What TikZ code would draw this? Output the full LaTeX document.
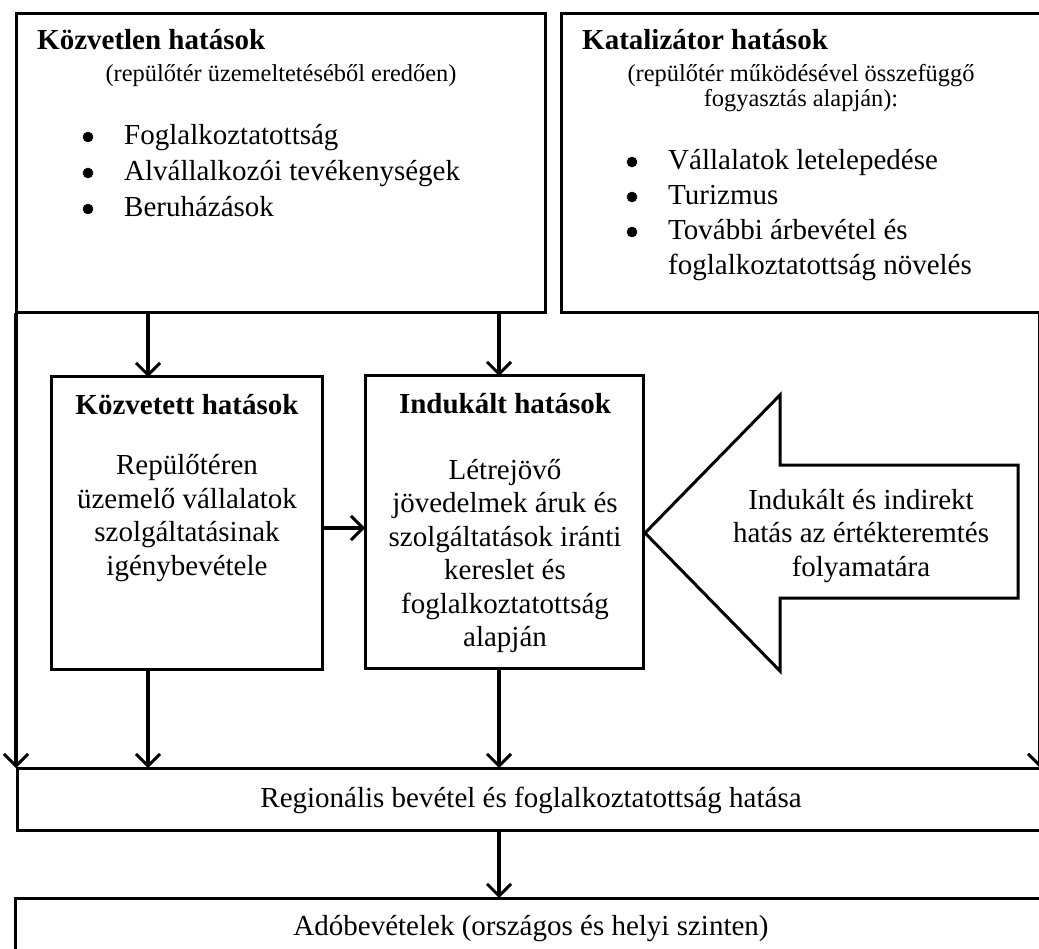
\documentclass[tikz,border=0pt]{standalone}
\usepackage{fontspec}
\setmainfont{Liberation Serif}
\usetikzlibrary{arrows.meta}
\tikzset{
  box/.style={draw, line width=3pt, inner sep=0pt, outer sep=0pt},
  arr/.style={line width=3.5pt, -{Straight Barb[length=12pt,width=24pt,line width=3pt]}},
  body/.style={font=\fontsize{29}{33.5}\selectfont, inner sep=0pt, align=center},
  ttl/.style={font=\fontsize{29}{34}\selectfont\bfseries, inner sep=0pt},
  subt/.style={font=\fontsize{24.4}{25}\selectfont, inner sep=0pt, align=center},
  bul/.style={font=\fontsize{29}{34}\selectfont, inner sep=0pt, anchor=mid west},
  dot/.style={circle, draw=black, fill=black, line width=0.5pt, inner sep=0pt, minimum size=10pt},
}
\begin{document}
\begin{tikzpicture}[x=1pt,y=-1pt]
\clip (0,0) rectangle (1039,949);
\fill[white] (0,0) rectangle (1039,949);
% boxes
\node[box, minimum width=529pt, minimum height=299pt] (dir) at (280.5,163.5) {};
\node[box, minimum width=479pt, minimum height=299pt] (tr) at (800.5,163.5) {};
\node[box, minimum width=271pt, minimum height=292pt] (kozv) at (186.5,523) {};
\node[box, minimum width=278pt, minimum height=292pt] (ind) at (504,522) {};
\node[box, minimum width=1023pt, minimum height=62pt] (reg) at (528.5,799) {};
\node[box, minimum width=1025pt, minimum height=67pt] (ado) at (527.5,931.5) {};
% top-left texts
\node[ttl, anchor=mid west] (dirt) at (37,47) {Közvetlen hatások};
\node[subt] (dirs) at (281,76) {(repülőtér üzemeltetéséből eredően)};
\node[dot] (d1) at (88,137) {};
\node[bul] (b1) at (124,142) {Foglalkoztatottság};
\node[dot] (d2) at (88,173) {};
\node[bul] (b2) at (124,178) {Alvállalkozói tevékenységek};
\node[dot] (d3) at (88,209) {};
\node[bul] (b3) at (124,214) {Beruházások};
% top-right texts
\node[ttl, anchor=mid west] (trt) at (582,47) {Katalizátor hatások};
\node[subt] (trs) at (801,88) {(repülőtér működésével összefüggő\\fogyasztás alapján):};
\node[dot] (e1) at (632,162) {};
\node[bul] (c1) at (668,167) {Vállalatok letelepedése};
\node[dot] (e2) at (632,197) {};
\node[bul] (c2) at (668,202) {Turizmus};
\node[dot] (e3) at (632,232) {};
\node[bul] (c3) at (668,237) {További árbevétel és};
\node[bul] (c4) at (668,272) {foglalkoztatottság növelés};
% middle boxes texts
\node[ttl] (kozvt) at (187,405) {Közvetett hatások};
\node[body] (kozvb) at (187,518) {Repülőtéren\\üzemelő vállalatok\\szolgáltatásinak\\igénybevétele};
\node[ttl] (indt) at (505,404) {Indukált hatások};
\node[body] (indb) at (505,556) {Létrejövő\\jövedelmek áruk és\\szolgáltatások iránti\\kereslet és\\foglalkoztatottság\\alapján};
% block arrow
\draw[line width=3pt, line join=miter] (645,533) -- (780,395) -- (780,465) -- (1018,465) -- (1018,598) -- (780,598) -- (780,671) -- cycle;
\node[body] (bat) at (861,536) {Indukált és indirekt\\hatás az értékteremtés\\folyamatára};
% bottom texts
\node[body] (regt) at (531,800) {Regionális bevétel és foglalkoztatottság hatása};
\node[body] (adot) at (531,929) {Adóbevételek (országos és helyi szinten)};
% connectors
\coordinate (kx) at (148,0);
\coordinate (ix) at (499,0);
\coordinate (my) at (0,528);
\draw[arr] (dir.south west) -- (dir.south west |- reg.north);
\draw[arr] (tr.south east) -- (tr.south east |- reg.north);
\draw[arr] (kx |- dir.south) -- (kx |- kozv.north);
\draw[arr] (ix |- dir.south) -- (ix |- ind.north);
\draw[arr] (kozv.east |- my) -- (ind.west |- my);
\draw[arr] (kx |- kozv.south) -- (kx |- reg.north);
\draw[arr] (ix |- ind.south) -- (ix |- reg.north);
\draw[arr] (ix |- reg.south) -- (ix |- ado.north);
\end{tikzpicture}
\end{document}
